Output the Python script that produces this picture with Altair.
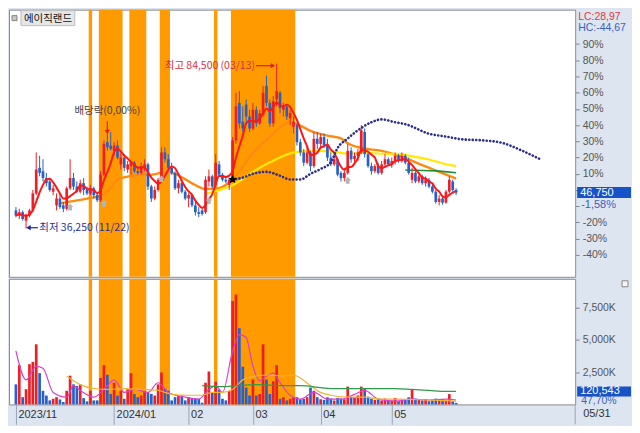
import altair as alt
import pandas as pd

# ---------------- data ----------------
BASE_PRICE = 47500          # previous close = 0% of the right axis

OPEN = [41500,40000,41000,38500,40000,41500,46500,54000,53000,51000,
        50000,47000,43000,45000,43000,42000,48000,51000,48500,47000,
        49500,47500,46500,48000,46000,44500,52000,61500,60500,59000,
        60500,55000,57000,53500,54500,55500,53000,52500,54000,55000,
        48500,45000,47500,50500,58500,56500,54000,52500,48000,49500,
        47000,45000,46000,43000,41000,41500,41000,50000,51500,49000,
        55000,52000,50500,49000,50500,62000,73000,67500,72500,69000,
        65500,71000,67000,69500,78000,73000,67000,74000,76000,71000,
        72000,68500,66000,66500,61500,58500,55500,58500,54500,62500,
        61000,63000,60500,57000,55000,56500,52500,51000,52500,59000,
        56500,57500,58500,64500,58000,54500,53000,54500,52500,55000,
        56500,55000,56000,57500,56000,57500,55500,50500,52500,50000,
        51500,49500,50500,48500,47000,44000,45000,43800,47000,50000,
        47500]
HIGH = [42500,42000,41500,40500,42000,47500,58500,57500,56500,52500,
        51000,49000,46500,46500,44000,48500,56500,52500,50000,50500,
        51000,48500,49000,48500,47000,53000,62000,64000,64500,61500,
        62000,58500,58000,56000,56000,56000,54500,55500,56500,55500,
        49000,48500,51000,60000,60000,58000,55500,53000,50500,50000,
        47500,46500,46500,44000,42500,42000,51500,53500,52000,58000,
        56000,52500,51500,51000,63000,76000,76500,72000,74000,71000,
        73000,72000,71000,78000,81000,74000,75000,84500,76500,73000,
        72500,71000,69000,67000,62500,59500,60000,59000,64500,64500,
        64000,64000,62500,58500,58000,57000,53000,54000,61000,60000,
        58500,59500,66500,65500,58500,55500,55000,55500,56000,58000,
        57000,57000,58500,58000,58500,58000,57000,54000,53000,52000,
        52000,51500,51000,49000,47500,46000,45500,47500,51500,50500,
        48000]
LOW = [39500,39000,38500,36250,39500,41000,46000,51500,50000,48500,
       47000,46000,41500,42000,41000,41500,47500,47500,46500,46500,
       46000,46000,46000,45000,44000,44000,51500,59000,59000,57500,
       56500,53500,53000,52500,52000,52500,52000,52000,53000,47500,
       44000,44500,47000,50000,55500,53500,52000,47500,46500,46500,
       44500,42500,42500,40000,39500,40000,40500,48500,48000,48500,
       51500,50000,49500,47500,50000,61000,65500,64500,67500,64500,
       65000,66000,66500,69000,72000,66000,66000,72000,70000,69000,
       68000,66500,64000,60500,57500,54500,55000,53000,54000,59500,
       60000,60000,56000,54500,54500,51500,50000,50000,52000,55500,
       55500,56000,58000,57000,54000,52000,52500,52000,52000,54500,
       54500,54000,55000,55500,55500,55000,52000,49500,49500,49500,
       49000,48500,48000,46500,43500,43000,43200,43500,46500,47000,
       46000]
CLOSE = [40000,41000,39000,40000,41500,46500,53500,52500,51000,49500,
         47500,48000,45000,42500,42000,48000,51000,48500,47000,49500,
         47500,46500,48000,46000,44500,52000,61000,60000,59500,60500,
         57000,57000,54000,55000,55500,53000,52500,54500,55000,48500,
         45000,47500,50500,58500,56500,54000,52500,48000,49500,47000,
         45000,46000,43000,41000,40500,40500,50500,51500,48500,55500,
         52000,50500,50000,50500,62000,72000,67000,65500,69000,65500,
         71000,67000,70000,76000,73000,67000,73500,76500,71500,72000,
         69000,70000,67500,61500,58500,55500,58500,54500,62500,61000,
         63000,60500,57000,55000,56500,52000,51000,52500,59000,56500,
         57500,58500,65000,58000,54500,53000,54500,52500,55000,56500,
         55000,56000,57500,56000,57500,55500,52500,52500,50000,51500,
         49500,50500,48500,47000,44000,45000,43800,47000,50500,47500,
         46750]
VOLUME_K = [1555,3045,560,1180,3120,3295,4660,2425,1055,685,
            310,435,560,385,185,1055,2225,1555,1430,1555,
            485,235,1055,310,310,2050,3045,2300,810,1680,
            685,1055,435,1180,2425,810,560,685,1055,930,
            810,685,1555,2475,1230,1055,310,560,685,685,
            310,560,435,435,435,135,1680,2550,930,1755,
            1135,435,310,1055,8020,8520,5905,2920,1305,685,
            1930,685,810,4660,1930,810,1805,3045,435,560,
            310,435,560,560,385,435,560,1305,1055,560,
            400,350,550,450,300,500,450,400,1380,600,
            550,700,1380,1200,600,450,350,400,300,450,
            350,300,500,250,350,400,550,1150,450,350,
            300,400,250,300,450,350,400,300,800,250,
            121]
LAST_VOLUME = 120543

MONTH_IDX = [0, 29, 51, 70, 90, 111]
MONTH_LBL = ["2023/11", "2024/01", "02", "03", "04", "05"]
LAST_DATE = "05/31"

BAND_START = [22, 25, 34, 43, 59, 64]
BAND_END = [22, 31, 38, 45, 59, 82]

PCT_TICKS = [-40, -30, -20, -10, 0, 10, 20, 30, 40, 50, 60, 70, 80, 90]
PCT_HIDDEN = [-10, 0]        # covered by the last-price box in the reference
VOL_TICKS_K = [2500, 5000, 7500]

ORANGE_I = [13, 21, 25, 28, 30, 33, 37, 40, 44, 47, 52, 56, 60, 64, 70, 75, 81, 83, 87, 92, 96, 98, 102, 108, 113, 116, 120, 125, 130]
ORANGE_P = [43590, 44990, 45820, 48060, 50570, 51410, 51970, 51970, 52810, 52250, 49460, 47780, 48060, 50570,
            58400, 63150, 67340, 66780, 64820, 63430, 62590, 61190, 59790, 58960, 57560, 56440, 54760, 52810, 50850]
YELLOW_I = [56, 59, 64, 70, 75, 83, 89, 94, 98, 103, 108, 113, 116, 122, 127, 130]
YELLOW_P = [46380, 47220, 48900, 52810, 55600, 58680, 58960, 58680, 58120, 58400, 58120, 58120, 57560, 56440, 55040, 54490]
GREEN_I = [115, 124, 130]
GREEN_P = [53370, 53090, 52530]
DOT_I = [64, 67, 70, 74, 78, 81, 84, 87, 90, 93, 95, 98, 102, 105, 108, 112, 115, 122, 127, 132, 138, 144, 149, 155]
DOT_P = [50570, 51130, 52250, 52810, 51690, 50570, 50570, 52250, 53650, 55600, 59790, 62590, 65660, 67340, 68180,
         67340, 66780, 63980, 63150, 62310, 62030, 61190, 59230, 56440]

VPINK_I = [0, 3, 6, 8, 11, 15, 17, 19, 23, 27, 29, 32, 35, 39, 42, 45, 50, 54, 57, 59, 61, 64, 66, 68, 70, 72, 74,
           76, 78, 81, 84, 88, 92, 96, 100, 103, 107, 112, 117, 122, 127, 130]
VPINK_K = [4140, 1900, 2950, 2800, 930, 560, 1450, 1080, 560, 1450, 1900, 930, 1160, 930, 1680, 930, 560, 410, 1160,
           1450, 930, 4140, 5410, 5180, 2950, 1830, 2200, 2420, 1680, 710, 410, 930, 410, 410, 780, 1080, 410, 260,
           410, 340, 410, 340]
VYEL_I = [15, 19, 23, 27, 32, 37, 42, 46, 51, 55, 58, 61, 64, 67, 71, 75, 79, 82, 84, 87, 90, 93, 98, 103, 108, 112, 122, 130]
VYEL_K = [2200, 1530, 1230, 1160, 1230, 1160, 1080, 780, 710, 710, 930, 930, 1160, 1900, 2200, 2280, 2200, 2280,
          2050, 1450, 930, 710, 560, 560, 410, 410, 340, 260]
VGRN_I = [55, 61, 65, 71, 79, 84, 93, 103, 112, 117, 122, 127, 130]
VGRN_K = [1450, 1380, 1450, 1530, 1450, 1450, 1230, 1230, 1230, 1160, 1080, 1010, 1010]

MARK_I = [16, 26, 43, 57, 98]
MARK_P = [42500, 43600, 50800, 44400, 50300]
STAR_I = [64]
STAR_P = [50570]

# ---------------- styling ----------------
W, H1, H2 = 568, 268, 126
NUM_FONT = "Liberation Sans"
KR_FONT = "Noto Sans CJK KR"
RED, BLUE = "#ec1f26", "#2860c8"
BAND = "#ff9a00"
STRIP = "#dde5f0"

xs = alt.Scale(domain=[-0.57, 163.7], nice=False, zero=False)
ps = alt.Scale(domain=[22075, 100310], nice=False, zero=False)
vs = alt.Scale(domain=[0, 9735], nice=False, zero=False)

pct_vals = [BASE_PRICE * (1 + p / 100) for p in PCT_TICKS]
pct_r = f"round((datum.value / {BASE_PRICE} - 1) * 100)"
PRICE_AXIS = alt.Axis(orient="right", values=pct_vals,
                      labelExpr=f"indexof({PCT_HIDDEN}, {pct_r}) >= 0 ? '' : {pct_r} + '%'",
                      domain=False, grid=False, tickSize=4, tickColor="#7d8797", labelColor="#555",
                      labelFont=NUM_FONT, labelFontSize=10.5, labelPadding=3, title=None, labelOverlap=False)
month_expr = "".join(f"datum.value == {m} ? '{l}' : " for m, l in zip(MONTH_IDX, MONTH_LBL)) + "''"
DATE_AXIS = alt.Axis(values=MONTH_IDX, labelExpr=month_expr, orient="bottom", domain=False, grid=False,
                     tickSize=20, tickColor="#9aa6b8", labelAlign="left", labelBaseline="middle",
                     labelPadding=-10, labelOffset=2, labelColor="#333", labelFont=NUM_FONT, labelFontSize=11,
                     labelOverlap=False, labelFlush=False, title=None)
VOL_AXIS = alt.Axis(orient="right", values=VOL_TICKS_K, labelExpr="format(datum.value, ',') + 'K'",
                    domain=False, grid=False, tickSize=4, tickColor="#7d8797", labelColor="#555",
                    labelFont=NUM_FONT, labelFontSize=10.5, labelPadding=3, title=None, labelOverlap=False)

# panel-specific encodings (same axis object in every layer so the layers merge cleanly)
PANEL = {
    "price": {"x": None, "y": PRICE_AXIS, "ys": ps},
    "vol": {"x": DATE_AXIS, "y": VOL_AXIS, "ys": vs},
}

candles = pd.DataFrame({"i": list(range(len(CLOSE))), "o": OPEN, "h": HIGH, "l": LOW, "c": CLOSE, "v": VOLUME_K})
bands = pd.DataFrame({"s": BAND_START, "e": BAND_END})
ONE = pd.DataFrame({"k": [0]})

dir_color = alt.Color("dir:N", scale=alt.Scale(domain=["up", "down"], range=[RED, BLUE]), legend=None)


def X(panel, field="i"):
    return alt.X(f"{field}:Q", scale=xs, axis=PANEL[panel]["x"])


def Y(panel, field="p"):
    return alt.Y(f"{field}:Q", scale=PANEL[panel]["ys"], axis=PANEL[panel]["y"])


def line(panel, idx, vals, color, width, **kw):
    df = pd.DataFrame({"i": idx, "p": vals})
    return alt.Chart(df).mark_line(color=color, strokeWidth=width, interpolate="monotone", **kw).encode(
        x=X(panel), y=Y(panel))


def px_text(txt, x, y, color, size=11, align="left", font=NUM_FONT, baseline="middle"):
    return alt.Chart(ONE).mark_text(text=txt, color=color, fontSize=size, align=align, baseline=baseline,
                                    font=font).encode(x=alt.value(x), y=alt.value(y))


def px_rect(x, x2, y, y2, fill, stroke=None):
    kw = {"fill": fill}
    if stroke:
        kw.update(stroke=stroke, strokeWidth=1)
    return alt.Chart(ONE).mark_rect(**kw).encode(x=alt.value(x), x2=alt.value(x2), y=alt.value(y), y2=alt.value(y2))


def band_layer(panel, h):
    return alt.Chart(bands).transform_calculate(x0="datum.s - 0.5", x1="datum.e + 0.5").mark_rect(
        color=BAND).encode(x=X(panel, "x0"), x2="x1:Q", y=alt.value(0), y2=alt.value(h))


def pt_chart(i, p):
    return alt.Chart(pd.DataFrame({"i": i, "p": p}))


# ---------------- price panel ----------------
cbase = alt.Chart(candles).transform_calculate(dir="datum.c >= datum.o ? 'up' : 'down'")
wicks = cbase.mark_rule(strokeWidth=1).encode(x=X("price"), y=Y("price", "l"), y2="h:Q", color=dir_color)
bodies = cbase.mark_bar(size=2.7, orient="vertical").encode(
    x=X("price"), y=Y("price", "o"), y2="c:Q", color=dir_color)
ma5 = alt.Chart(candles).transform_window(ma5="mean(c)", frame=[-4, 0], sort=[alt.SortField("i")]).mark_line(
    color="#ff1616", strokeWidth=2, interpolate="monotone").encode(x=X("price"), y=Y("price", "ma5"))

HOUSE = "M0,-1L1,0L0.55,0L0.55,1L-0.55,1L-0.55,0L-1,0Z"
STAR = "M0,-1L0.29,-0.4L0.95,-0.31L0.48,0.15L0.59,0.81L0,0.5L-0.59,0.81L-0.48,0.15L-0.95,-0.31L-0.29,-0.4Z"
PX, PY = X("price"), Y("price")
gray_marks = pt_chart(MARK_I, MARK_P).mark_point(shape=HOUSE, filled=True, color="#b5b5b5", size=45,
                                                 opacity=1).encode(x=PX, y=PY)
star_mark = pt_chart(STAR_I, STAR_P).mark_point(shape=STAR, filled=True, color="#000", size=80,
                                                opacity=1).encode(x=PX, y=PY)

hi_txt = pt_chart([70.6], [83900]).mark_text(text="최고 84,500 (03/13)", align="right", baseline="middle",
                                             color="#d8303c", fontSize=10.5, font=KR_FONT).encode(x=PX, y=PY)
hi_arrow = alt.Chart(pd.DataFrame({"i": [70.9], "i2": [75.6], "p": [83900]})).mark_rule(
    color="#e02020", strokeWidth=1.2).encode(x=PX, x2="i2:Q", y=PY)
hi_head = pt_chart([75.9], [83900]).mark_point(shape="triangle-right", filled=True, color="#e02020",
                                               size=28, opacity=1).encode(x=PX, y=PY)
ex_txt = pt_chart([27], [70600]).mark_text(text="배당락(0,00%)", align="center", baseline="middle",
                                           color="#444", fontSize=10.5, font=KR_FONT).encode(x=PX, y=PY)
ex_arrow = alt.Chart(pd.DataFrame({"i": [27], "p": [67600], "p2": [64900]})).mark_rule(
    color="#e02020", strokeWidth=1.2).encode(x=PX, y=PY, y2="p2:Q")
ex_head = pt_chart([27], [64500]).mark_point(shape="triangle-down", filled=True, color="#e02020",
                                             size=28, opacity=1).encode(x=PX, y=PY)
lo_arrow = alt.Chart(pd.DataFrame({"i": [3.9], "i2": [6.5], "p": [36450]})).mark_rule(
    color="#1e2a9a", strokeWidth=1.2).encode(x=PX, x2="i2:Q", y=PY)
lo_head = pt_chart([3.7], [36450]).mark_point(shape="triangle-left", filled=True, color="#1e2a9a",
                                              size=28, opacity=1).encode(x=PX, y=PY)
lo_txt = pt_chart([6.9], [36450]).mark_text(text="최저 36,250 (11/22)", align="left", baseline="middle",
                                            color="#22309a", fontSize=10.5, font=KR_FONT).encode(x=PX, y=PY)

lp = pd.DataFrame({"p": [CLOSE[-1]]})
lp_box = alt.Chart(lp).transform_calculate(p0="datum.p - 1600", p1="datum.p + 1600").mark_rect(
    color="#1652c8").encode(x=alt.value(W + 2), x2=alt.value(W + 56), y=Y("price", "p0"), y2="p1:Q")
lp_txt = alt.Chart(lp).mark_text(text=f"{CLOSE[-1]:,}", color="white", fontSize=11, align="left",
                                 baseline="middle", font=NUM_FONT).encode(x=alt.value(W + 5), y=PY)
chg = (CLOSE[-1] / BASE_PRICE - 1) * 100
lp_chg = alt.Chart(lp).mark_text(text=f"{chg:.2f}%".replace(".", ","), color="#3a62c0", fontSize=11,
                                 align="left", baseline="middle", font=NUM_FONT, dy=12).encode(x=alt.value(W + 6), y=PY)

price = alt.layer(
    band_layer("price", H1),
    line("price", ORANGE_I, ORANGE_P, "#ff8a10", 2.4),
    line("price", YELLOW_I, YELLOW_P, "#ffea00", 2.2),
    line("price", GREEN_I, GREEN_P, "#1f8f3a", 1.6),
    wicks, bodies, ma5,
    line("price", DOT_I, DOT_P, "#2b2d8f", 2.6, strokeDash=[0.1, 3.4], strokeCap="round"),
    gray_marks, star_mark,
    hi_arrow, hi_head, hi_txt, ex_txt, ex_arrow, ex_head, lo_arrow, lo_head, lo_txt,
    px_rect(3, 8, 6, 11, "#c8c8c8", "#808080"),
    px_rect(12, 66, 1, 16, "#e6e6e6", "#bdbdbd"),
    px_text("에이직랜드", 15, 9, "#111", size=10.5, font=KR_FONT),
    px_text("LC:28,97", W + 3, 7, "#e03a3a", size=10.5),
    px_text("HC:-44,67", W + 3, 18, "#3a62c0", size=10.5),
    lp_box, lp_txt, lp_chg,
).properties(width=W, height=H1)

# ---------------- volume panel ----------------
vbars = cbase.mark_bar(size=2.7, orient="vertical").encode(x=X("vol"), y=Y("vol", "v"), color=dir_color)

volume = alt.layer(
    band_layer("vol", H2),
    vbars,
    line("vol", VPINK_I, VPINK_K, "#dc3fc8", 1.2),
    line("vol", VYEL_I, VYEL_K, "#f2b233", 1.2),
    line("vol", VGRN_I, VGRN_K, "#2f9a4a", 1.3),
    px_rect(W + 2, W + 56, 108, 118, "#1652c8"),
    px_text(f"{LAST_VOLUME:,}", W + 5, 113, "white", size=11),
    px_text("47,70%", W + 6, 123, "#3a62c0", size=10.5),
    px_rect(W + 47, W + 53, 2, 8, "#f4f4f4", "#888"),
    alt.Chart(ONE).mark_rule(color="#9aa6b8").encode(x=alt.value(W), y=alt.value(H2), y2=alt.value(H2 + 20)),
    px_text(LAST_DATE, W + 8, H2 + 10, "#333", size=11),
).properties(width=W, height=H2)

chart = alt.vconcat(price, volume, spacing=0).properties(padding=0).configure(
    background=STRIP).configure_view(fill="white", stroke="#8c8c8c", strokeWidth=1)

chart.save("out.html", embed_options={"renderer": "svg", "actions": False})
